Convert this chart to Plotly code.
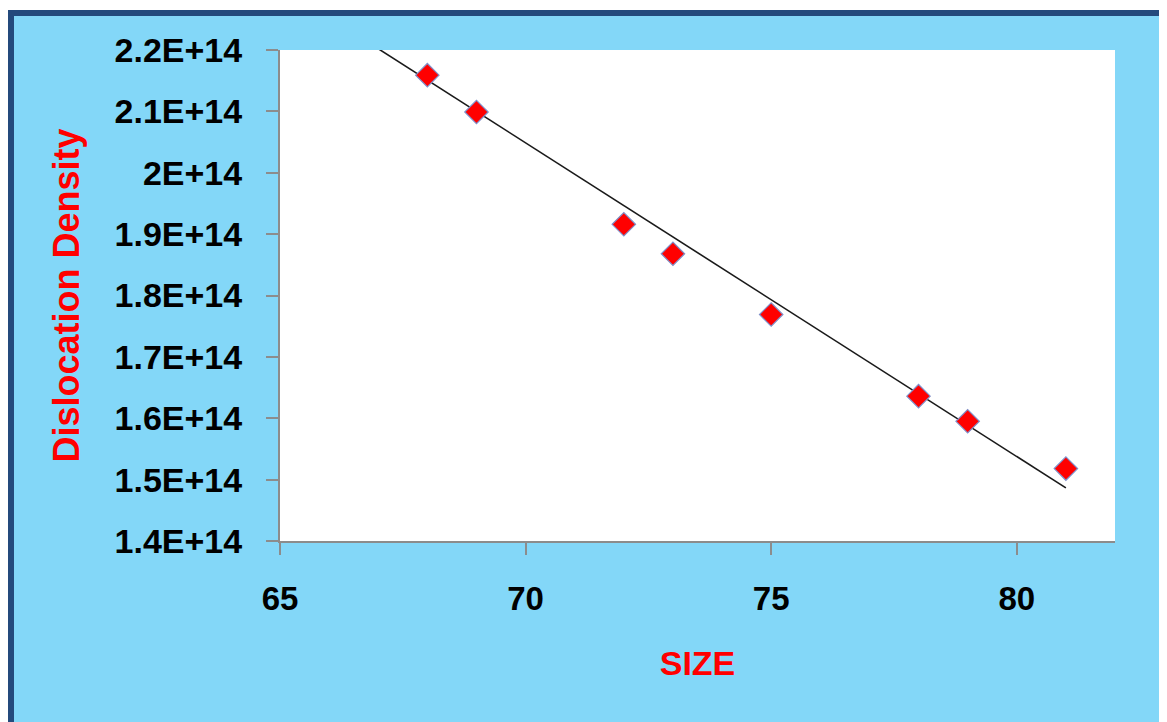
import plotly.graph_objects as go

# ---- data ----
size = [68, 69, 72, 73, 75, 78, 79, 81]
density = [2.159e14, 2.099e14, 1.916e14, 1.868e14, 1.769e14, 1.636e14, 1.595e14, 1.518e14]

# trend line as drawn (endpoints, clipped by the axes)
trend_x = [66.0, 81.0]
trend_y = [2.2532e14, 1.4865e14]

x_ticks = [65, 70, 75, 80]
y_ticks = [1.4e14, 1.5e14, 1.6e14, 1.7e14, 1.8e14, 1.9e14, 2.0e14, 2.1e14, 2.2e14]
y_tick_text = ["1.4E+14", "1.5E+14", "1.6E+14", "1.7E+14", "1.8E+14",
               "1.9E+14", "2E+14", "2.1E+14", "2.2E+14"]

# page has an 8px body margin, so figure coords = page coords - 8
W, H = 1159, 714
L, T = 272, 42
R = W - 1107
B = H - 533
pw, ph = W - L - R, H - T - B


def px_x(p):
    return (p - L) / pw


def px_y(p):
    return (H - B - p) / ph


fig = go.Figure()
fig.add_trace(go.Scatter(x=trend_x, y=trend_y, mode="lines",
                         line=dict(color="#1a1a1a", width=1.6),
                         hoverinfo="skip", showlegend=False))
fig.add_trace(go.Scatter(x=size, y=density, mode="markers",
                         marker=dict(symbol="diamond", size=18, color="#FF0000",
                                     line=dict(color="#7F8FC8", width=1.2)),
                         showlegend=False))

font_main = "Arial, Liberation Sans, sans-serif"

fig.update_layout(
    width=W, height=H,
    margin=dict(l=L, r=R, t=T, b=B, autoexpand=False),
    paper_bgcolor="white",
    plot_bgcolor="white",
    font=dict(family=font_main, color="black"),
    shapes=[
        dict(type="rect", xref="paper", yref="paper", layer="below",
             x0=px_x(3), x1=px_x(W + 30), y0=px_y(5), y1=px_y(H + 30),
             fillcolor="#83D7F8", line=dict(color="#244A7C", width=6)),
        dict(type="rect", xref="paper", yref="paper", layer="below",
             x0=0, x1=1, y0=0, y1=1, fillcolor="white", line=dict(width=0)),
    ],
    xaxis=dict(
        range=[65, 82], tickvals=x_ticks, ticktext=[str(v) for v in x_ticks],
        showgrid=False, zeroline=False,
        showline=True, linecolor="#8C8C8C", linewidth=2,
        ticks="outside", ticklen=12, tickcolor="#8C8C8C", tickwidth=2,
        ticklabelstandoff=15,
        tickfont=dict(family=font_main, size=33, color="black", weight="bold"),
        title=dict(text="SIZE", standoff=36,
                   font=dict(family=font_main, size=34, color="#FF0000", weight="bold")),
    ),
    yaxis=dict(
        range=[1.4e14, 2.2e14], tickvals=y_ticks, ticktext=y_tick_text,
        showgrid=False, zeroline=False,
        showline=True, linecolor="#8C8C8C", linewidth=2,
        ticks="outside", ticklen=12, tickcolor="#8C8C8C", tickwidth=2,
        ticklabelstandoff=17,
        tickfont=dict(family=font_main, size=34, color="black", weight="bold"),
        title=dict(text="Dislocation Density", standoff=24,
                   font=dict(family=font_main, size=36, color="#FF0000", weight="bold")),
    ),
)

fig.write_html("out.html")
